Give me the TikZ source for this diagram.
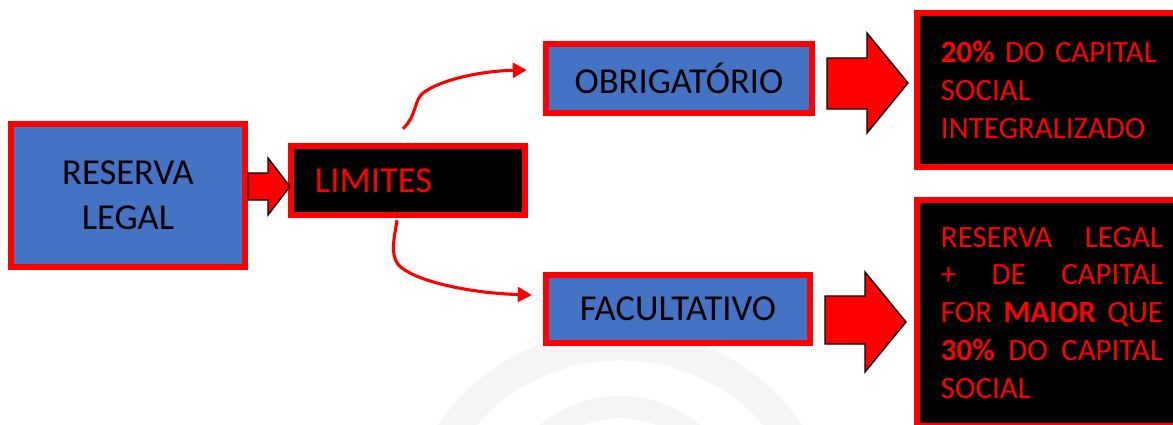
\documentclass[tikz,border=0pt]{standalone}
\usepackage{fontspec}
\setmainfont{Carlito}
\usepackage{tikz}
\usetikzlibrary{arrows.meta}
\definecolor{boxblue}{HTML}{4472C4}
\tikzstyle{bluebox} = [draw=red, fill=boxblue, line width=4.5pt, text=black, font=\fontsize{26}{32}\selectfont, align=center]
\tikzstyle{darkbox} = [draw=red, fill=black, line width=4.5pt, text=red]
\tikzstyle{notebox} = [darkbox, font=\fontsize{22}{27}\selectfont, text width=5.55cm, inner xsep=0.6cm, align=left, minimum width=6.75cm]
\tikzstyle{blockarrow} = [fill=red, draw=black, line width=1pt, line join=miter]
\tikzstyle{curvearrow} = [red, line width=2.2pt, -{Triangle[length=10pt,width=10.5pt]}]
\tikzstyle{wmark} = [black!4]

\begin{document}
\begin{tikzpicture}[x=0.025cm, y=-0.025cm]
	\useasboundingbox (0,0) rectangle (1173,424);
	\clip (0,0) rectangle (1173,424);
	% faint watermark
	\draw[wmark, line width=22pt] (620,535) ++(-5cm,0) arc[start angle=180, end angle=0, x radius=5cm, y radius=4.75cm];
	\draw[wmark, line width=16pt] (620,535) ++(-3cm,0) arc[start angle=180, end angle=0, x radius=3cm, y radius=3.2cm];
	% boxes
	\node[bluebox, minimum width=5.85cm, minimum height=3.575cm] (reserva) at (128,195.5) {RESERVA\\LEGAL};
	\node[darkbox, font=\fontsize{26}{32}\selectfont, text width=4.65cm, inner xsep=0.6cm, align=left, minimum height=1.725cm] (limites) at (408,180.5) {LIMITES};
	\node[bluebox, minimum width=6.65cm, minimum height=1.725cm] (obrig) at (679,78.5) {OBRIGATÓRIO};
	\node[bluebox, minimum width=6.6cm, minimum height=1.7cm] (facult) at (678,309) {FACULTATIVO};
	\node[notebox, minimum height=3.85cm] (vinte) at (1052,90) {\textbf{20\%} DO CAPITAL\\SOCIAL\\INTEGRALIZADO};
	\node[notebox, minimum height=5.65cm] (trinta) at (1052,313) {RESERVA\hfill LEGAL\\+\hfill DE\hfill CAPITAL\\FOR\hfill\textbf{MAIOR}\hfill QUE\\\textbf{30\%}\hfill DO\hfill CAPITAL\\SOCIAL};
	% block arrows
	\draw[blockarrow] (248,173) -- (268,173) -- (268,158) -- (290,186.5) -- (268,215) -- (268,200) -- (248,200) -- cycle;
	\draw[blockarrow] (827,58) -- (867,58) -- (867,33) -- (908,83) -- (867,133) -- (867,109) -- (827,109) -- cycle;
	\draw[blockarrow] (825,296) -- (865,296) -- (865,272) -- (906,322) -- (865,372) -- (865,344) -- (825,344) -- cycle;
	% curved arrows
	\draw[curvearrow] ([shift={(-5,-14)}]limites.north) .. controls (417,115) and (414,100) .. (423,93) .. controls (440,80) and (480,71) .. ([shift={(-16,-8.5)}]obrig.west);
	\draw[curvearrow] ([shift={(-11,2)}]limites.south) .. controls (395,235) and (388,258) .. (402,268) .. controls (420,282) and (470,293) .. ([shift={(-11,-14)}]facult.west);
\end{tikzpicture}
\end{document}
